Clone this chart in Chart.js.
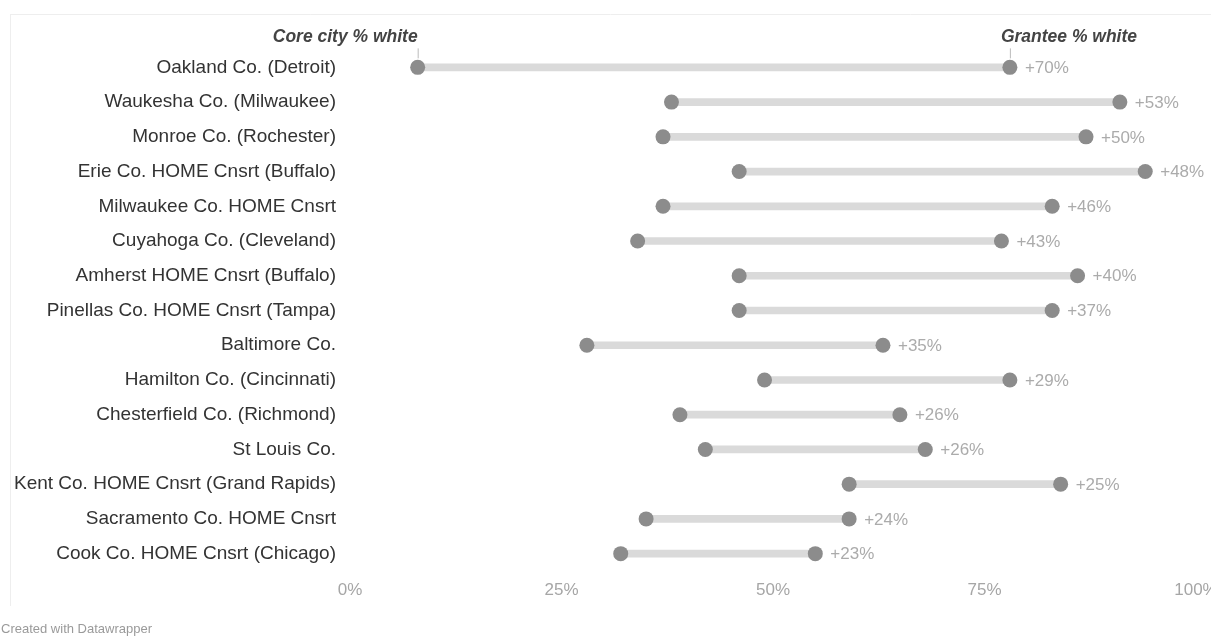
<!DOCTYPE html>
<html lang="en">
<head>
  <meta charset="UTF-8">
  <title>Core city vs grantee % white</title>
  <script src="https://cdn.jsdelivr.net/npm/chart.js"></script>
  <style>
    * { margin: 0; padding: 0; box-sizing: border-box; }
    body { background: #ffffff; width: 1211px; height: 639px; overflow: hidden; }
    .wrap { position: relative; width: 1211px; height: 639px; }
  </style>
</head>
<body>
  <div class="wrap">
    <canvas id="chart" width="1211" height="639"></canvas>
  </div>

  <script>
    const categories = [
      'Oakland Co. (Detroit)',
      'Waukesha Co. (Milwaukee)',
      'Monroe Co. (Rochester)',
      'Erie Co. HOME Cnsrt (Buffalo)',
      'Milwaukee Co. HOME Cnsrt',
      'Cuyahoga Co. (Cleveland)',
      'Amherst HOME Cnsrt (Buffalo)',
      'Pinellas Co. HOME Cnsrt (Tampa)',
      'Baltimore Co.',
      'Hamilton Co. (Cincinnati)',
      'Chesterfield Co. (Richmond)',
      'St Louis Co.',
      'Kent Co. HOME Cnsrt (Grand Rapids)',
      'Sacramento Co. HOME Cnsrt',
      'Cook Co. HOME Cnsrt (Chicago)'
    ];
    const coreCityWhite = [8, 38, 37, 46, 37, 34, 46, 46, 28, 49, 39, 42, 59, 35, 32];
    const granteeWhite  = [78, 91, 87, 94, 83, 77, 86, 83, 63, 78, 65, 68, 84, 59, 55];
    const gapLabels = ['+70%', '+53%', '+50%', '+48%', '+46%', '+43%', '+40%', '+37%',
                       '+35%', '+29%', '+26%', '+26%', '+25%', '+24%', '+23%'];
    const xTicks = [0, 25, 50, 75, 100];

    const FONT = "'Liberation Sans', Arial, sans-serif";

    // draws the +xx% labels, the two column headers, frame and credit line
    const extras = {
      id: 'extras',
      afterDatasetsDraw(chart) {
        const ctx = chart.ctx;
        const x = chart.scales.x;
        const y = chart.scales.y;
        ctx.save();

        ctx.font = '17px ' + FONT;
        ctx.fillStyle = '#ababab';
        ctx.textAlign = 'left';
        ctx.textBaseline = 'middle';
        gapLabels.forEach((t, i) => {
          ctx.fillText(t, x.getPixelForValue(granteeWhite[i]) + 15, y.getPixelForValue(i) + 1);
        });

        const y0 = y.getPixelForValue(0);
        const cx = x.getPixelForValue(coreCityWhite[0]);
        const gx = x.getPixelForValue(granteeWhite[0]);
        ctx.strokeStyle = '#bbbbbb';
        ctx.lineWidth = 1;
        ctx.beginPath();
        ctx.moveTo(cx + 0.5, y0 - 19); ctx.lineTo(cx + 0.5, y0 - 9);
        ctx.moveTo(gx + 0.5, y0 - 19); ctx.lineTo(gx + 0.5, y0 - 9);
        ctx.stroke();

        ctx.font = 'italic bold 17.5px ' + FONT;
        ctx.fillStyle = '#444444';
        ctx.textBaseline = 'alphabetic';
        ctx.textAlign = 'right';
        ctx.fillText('Core city % white', cx, y0 - 25);
        ctx.textAlign = 'left';
        ctx.fillText('Grantee % white', gx - 9, y0 - 25);

        ctx.strokeStyle = '#eeeeee';
        ctx.beginPath();
        ctx.moveTo(10.5, 14); ctx.lineTo(10.5, 606);
        ctx.moveTo(10, 14.5); ctx.lineTo(1211, 14.5);
        ctx.stroke();

        ctx.font = '13px ' + FONT;
        ctx.fillStyle = '#9a9a9a';
        ctx.textBaseline = 'middle';
        ctx.fillText('Created with Datawrapper', 1, 629);
        ctx.restore();
      }
    };

    new Chart(document.getElementById('chart'), {
      type: 'bar',
      data: {
        labels: categories,
        datasets: [
          {
            type: 'line',
            label: 'Core city % white',
            data: coreCityWhite,
            showLine: false,
            pointRadius: 7.5,
            pointHoverRadius: 7.5,
            pointBackgroundColor: '#8c8c8c',
            pointBorderWidth: 0,
            order: 1
          },
          {
            type: 'line',
            label: 'Grantee % white',
            data: granteeWhite,
            showLine: false,
            pointRadius: 7.5,
            pointHoverRadius: 7.5,
            pointBackgroundColor: '#8c8c8c',
            pointBorderWidth: 0,
            order: 1
          },
          {
            label: 'gap',
            data: coreCityWhite.map((v, i) => [v, granteeWhite[i]]),
            backgroundColor: '#dadada',
            barThickness: 7,
            borderSkipped: false,
            order: 2
          }
        ]
      },
      options: {
        indexAxis: 'y',
        responsive: false,
        animation: false,
        layout: { padding: { top: 50, right: 15, bottom: 32, left: 0 } },
        plugins: {
          legend: { display: false },
          tooltip: { enabled: false }
        },
        scales: {
          x: {
            min: 0,
            max: 100,
            grid: { display: false, drawTicks: false },
            border: { display: false },
            afterBuildTicks: (s) => { s.ticks = xTicks.map(v => ({ value: v })); },
            afterFit: (s) => { s.height = 36; s.paddingLeft = 0; s.paddingRight = 0; },
            ticks: {
              padding: 9,
              color: '#a6a6a6',
              maxRotation: 0,
              font: { family: FONT, size: 17 },
              callback: (v) => v + '%'
            }
          },
          y: {
            grid: { display: false, drawTicks: false },
            border: { display: false },
            afterFit: (s) => { s.width = 350; },
            ticks: {
              padding: 14,
              color: '#333333',
              font: { family: FONT, size: 19 }
            }
          }
        }
      },
      plugins: [extras]
    });
  </script>
</body>
</html>
